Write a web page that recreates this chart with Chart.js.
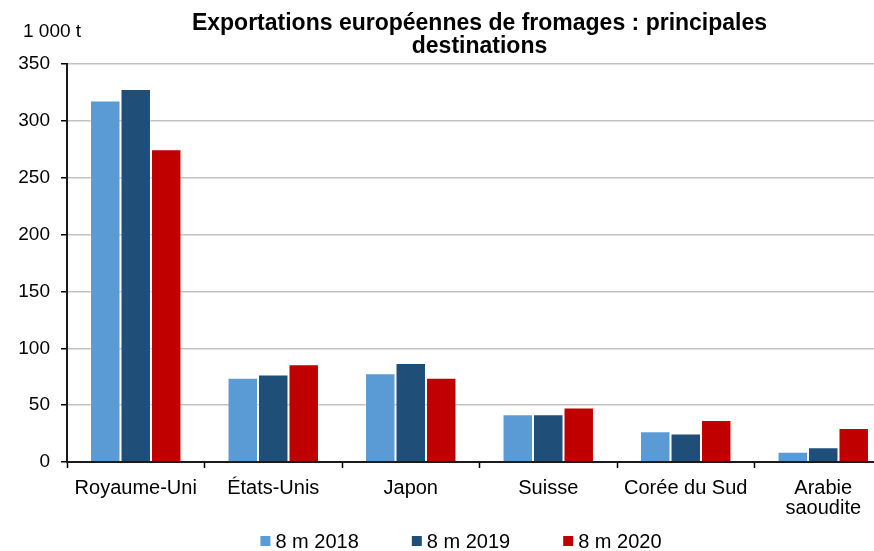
<!DOCTYPE html>
<html>
<head>
<meta charset="utf-8">
<script src="https://cdn.jsdelivr.net/npm/chart.js@4.4.1/dist/chart.umd.min.js"></script>
<style>
  html, body { margin: 0; padding: 0; background: #fff; overflow: hidden; }
  #wrap { width: 874px; height: 551px; overflow: hidden; }
</style>
</head>
<body>
<div id="wrap"><canvas id="myChart" width="895" height="551"></canvas></div>
<script>
// data (1 000 t)
var categories = ['Royaume-Uni', 'États-Unis', 'Japon', 'Suisse', 'Corée du Sud', ['Arabie', 'saoudite']];
var seriesNames = ['8 m 2018', '8 m 2019', '8 m 2020'];
var values2018 = [318, 74, 78, 42, 27, 9];
var values2019 = [328, 77, 87, 42, 25, 13];
var values2020 = [275, 86, 74, 48, 37, 30];
var yTicks = [0, 50, 100, 150, 200, 250, 300, 350];
var unitLabel = '1 000 t';
var titleLines = ['Exportations européennes de fromages : principales', 'destinations'];

var FONT = "'Liberation Sans', Arial, sans-serif";
var colors = ['#5b9bd5', '#1f4e79', '#c00000'];

// unit label above the y axis + legend drawn at the bottom
var extras = {
    id: 'extras',
    afterDraw: function(chart) {
        var c = chart.ctx;
        c.save();
        c.fillStyle = '#000';
        c.font = '19px ' + FONT;
        c.textAlign = 'left';
        c.textBaseline = 'alphabetic';
        c.fillText(unitLabel, 23, 37);

        // legend
        var ds = chart.data.datasets;
        c.font = '20px ' + FONT;
        var box = 10, gapText = 5, gapItem = 53;
        var total = 0;
        ds.forEach(function(d, i) {
            total += box + gapText + c.measureText(d.label).width;
            if (i < ds.length - 1) total += gapItem;
        });
        var x = 461 - total / 2;
        var y = 541;
        c.textBaseline = 'middle';
        ds.forEach(function(d) {
            c.fillStyle = d.backgroundColor;
            c.fillRect(x, y - box / 2, box, box);
            c.fillStyle = '#000';
            c.fillText(d.label, x + box + gapText, y + 1);
            x += box + gapText + c.measureText(d.label).width + gapItem;
        });
        c.restore();
    }
};

const ctx = document.getElementById('myChart').getContext('2d');

var graphData = {
    type: 'bar',
    data: {
        labels: categories,
        datasets: [
            { label: seriesNames[0], data: values2018, backgroundColor: colors[0] },
            { label: seriesNames[1], data: values2019, backgroundColor: colors[1] },
            { label: seriesNames[2], data: values2020, backgroundColor: colors[2] }
        ].map(function(d) {
            d.borderColor = 'rgba(255,255,255,0.3)';
            d.borderWidth = 1;
            d.categoryPercentage = 0.665;
            d.barPercentage = 1.0;
            return d;
        })
    },
    options: {
        responsive: false,
        animation: false,
        layout: { padding: { top: 0, right: 3, left: 0, bottom: 0 } },
        plugins: {
            legend: { display: false },
            tooltip: { enabled: false },
            title: {
                display: true,
                text: titleLines,
                fullSize: false,
                color: '#000',
                font: { family: FONT, size: 23, weight: 'bold', lineHeight: 1.0 },
                padding: { top: 12, bottom: 6 }
            }
        },
        scales: {
            x: {
                offset: true,
                grid: {
                    offset: true,
                    drawOnChartArea: false,
                    drawTicks: true,
                    tickLength: 6,
                    tickColor: '#000',
                    tickWidth: 1.5
                },
                border: { display: true, color: '#1a1a1a', width: 2 },
                ticks: {
                    color: '#000',
                    font: { family: FONT, size: 20, lineHeight: 1.0 },
                    padding: 10,
                    maxRotation: 0,
                    autoSkip: false
                },
                afterFit: function(scale) { scale.height = 89; }
            },
            y: {
                min: 0,
                max: 350,
                afterBuildTicks: function(scale) {
                    scale.ticks = yTicks.map(function(v) { return { value: v }; });
                },
                grid: {
                    color: function(c) { return c.tick && c.tick.value === 0 ? 'rgba(0,0,0,0)' : '#c2c2c2'; },
                    lineWidth: 1.5,
                    tickLength: 6,
                    tickColor: '#000',
                    tickWidth: 1.5
                },
                border: { display: true, color: '#1a1a1a', width: 2 },
                ticks: {
                    color: '#000',
                    font: { family: FONT, size: 19 },
                    padding: 11
                },
                afterFit: function(scale) { scale.width = 67; }
            }
        }
    },
    plugins: [extras]
};

var myChart = new Chart(ctx, graphData);
</script>
</body>
</html>
